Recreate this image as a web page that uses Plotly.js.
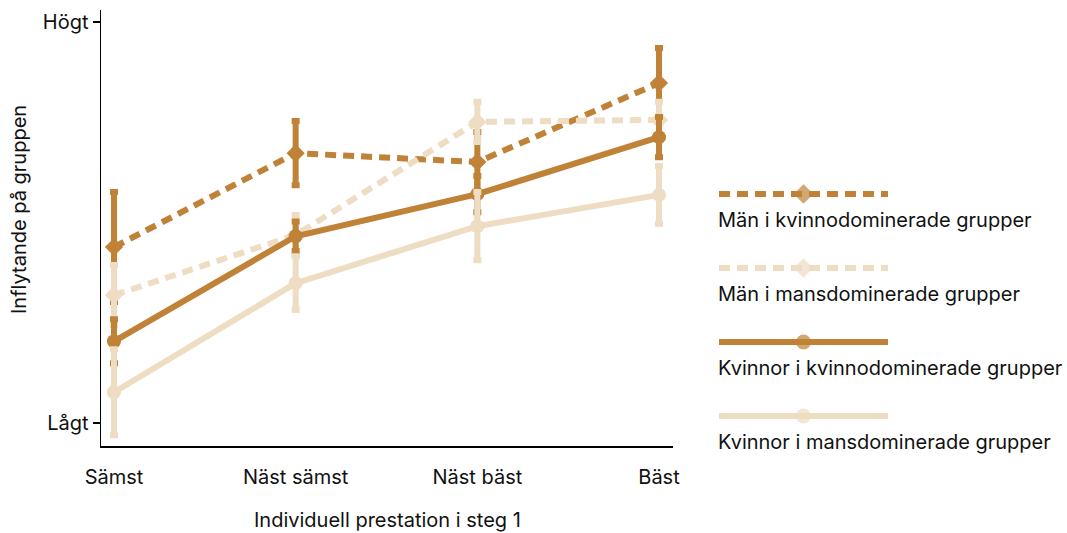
<!DOCTYPE html>
<html>
<head>
<meta charset="utf-8">
<script src="https://cdn.plot.ly/plotly-3.0.1.min.js"></script>
<style>html,body{margin:0;padding:0;background:#fff}#chart{width:1067px;height:533px}</style>
</head>
<body>
<div id="chart"></div>
<script>
// Categories (x axis)
const categories = ["Sämst", "Näst sämst", "Näst bäst", "Bäst"];
// Y scale: 0 = Lågt, 10 = Högt
const yTickVals = [0, 10];
const yTickText = ["Lågt", "Högt"];

const seriesNames = [
  "Män i kvinnodominerade grupper",
  "Män i mansdominerade grupper",
  "Kvinnor i kvinnodominerade grupper",
  "Kvinnor i mansdominerade grupper"
];
// Values
const manKvinnodom = [4.39, 6.73, 6.51, 8.48];
const manKvinnodomErr = [1.37, 0.80, 0.75, 0.87];
const manMansdom = [3.19, 4.69, 7.51, 7.56];
const manMansdomErr = [0.75, 0.50, 0.50, 0.45];
const kvinnorKvinnodom = [2.04, 4.66, 5.71, 7.13];
const kvinnorKvinnodomErr = [0.55, 0.37, 0.45, 0.50];
const kvinnorMansdom = [0.77, 3.49, 4.91, 5.69];
const kvinnorMansdomErr = [1.07, 0.67, 0.85, 0.72];

const DARK = "#bf8236";
const LIGHT = "#eedcc3";
const DASH = "11px,7px";
const FONT = "Inter, 'Liberation Sans', Arial, sans-serif";
const FS = 20;
const TXT = "#111";

const values = [manKvinnodom, manMansdom, kvinnorKvinnodom, kvinnorMansdom];
const errs = [manKvinnodomErr, manMansdomErr, kvinnorKvinnodomErr, kvinnorMansdomErr];
const colors = [DARK, LIGHT, DARK, LIGHT];
const dashes = [DASH, DASH, "solid", "solid"];
const symbols = ["diamond", "diamond", "circle", "circle"];
const msizes = [14, 14, 14, 14];

const xIdx = categories.map((c, i) => i);
const traces = [];
values.forEach((v, k) => {
  traces.push({
    type: "scatter", mode: "lines+markers",
    x: xIdx, y: v, name: seriesNames[k], showlegend: false,
    line: {color: colors[k], width: 6, dash: dashes[k]},
    marker: {color: colors[k], size: msizes[k], symbol: symbols[k], line: {width: 0}},
    error_y: {type: "data", array: errs[k], visible: true, color: colors[k], thickness: 6, width: 4},
    xaxis: "x", yaxis: "y", hoverinfo: "skip"
  });
});
// Legend samples on a secondary axis
values.forEach((v, k) => {
  traces.push({
    type: "scatter", mode: "lines+markers",
    x: [0, 0.5, 1], y: [k, k, k], showlegend: false,
    line: {color: colors[k], width: 6, dash: dashes[k]},
    marker: {color: colors[k], size: [0, msizes[k] + 1, 0], symbol: symbols[k], line: {width: 0}},
    xaxis: "x2", yaxis: "y2", hoverinfo: "skip", cliponaxis: false
  });
});

const W = 1067, H = 533, ML = 101, MR = 10, MT = 10, MB = 87;
const PW = W - ML - MR, PH = H - MT - MB;
const px = x => (x - ML) / PW;
const py = y => (H - MB - y) / PH;

const annotations = seriesNames.map((n, k) => ({
  text: n, xref: "paper", yref: "y2", x: px(716), y: k + 0.35,
  xanchor: "left", yanchor: "middle", showarrow: false,
  font: {family: FONT, size: FS, color: TXT}
}));
annotations.push({
  text: "Inflytande på gruppen", xref: "paper", yref: "paper",
  x: px(19), y: py(210), textangle: -90, showarrow: false,
  xanchor: "center", yanchor: "middle",
  font: {family: FONT, size: FS, color: TXT}
});
annotations.push({
  text: "Individuell prestation i steg 1", xref: "paper", yref: "paper",
  x: px(387), y: py(520), showarrow: false, xanchor: "center", yanchor: "middle",
  font: {family: FONT, size: FS, color: TXT}
});

const layout = {
  width: W, height: H,
  margin: {l: ML, r: MR, t: MT, b: MB},
  paper_bgcolor: "#fff", plot_bgcolor: "#fff",
  showlegend: false,
  font: {family: FONT, size: FS, color: TXT},
  xaxis: {
    domain: [0, px(673)], range: [-0.0715, 3.077],
    tickvals: xIdx, ticktext: categories,
    showgrid: false, zeroline: false, showline: true, linecolor: "#000", linewidth: 1.5,
    ticks: "", ticklabelstandoff: 12,
    tickfont: {family: FONT, size: FS, color: TXT}, fixedrange: true
  },
  yaxis: {
    domain: [0, 1], range: [-0.57, 10.30],
    tickvals: yTickVals, ticktext: yTickText,
    showgrid: false, zeroline: false, showline: true, linecolor: "#000", linewidth: 1.5,
    ticks: "outside", ticklen: 7, tickwidth: 1.5, tickcolor: "#000",
    tickfont: {family: FONT, size: FS, color: TXT}, fixedrange: true
  },
  xaxis2: {domain: [px(719), px(888)], range: [0, 1], visible: false, fixedrange: true, anchor: "y2"},
  yaxis2: {domain: [0, 1], range: [3.405, -2.486], visible: false, fixedrange: true, anchor: "x2"},
  annotations: annotations
};

Plotly.newPlot("chart", traces, layout, {displayModeBar: false, staticPlot: true});
</script>
</body>
</html>
